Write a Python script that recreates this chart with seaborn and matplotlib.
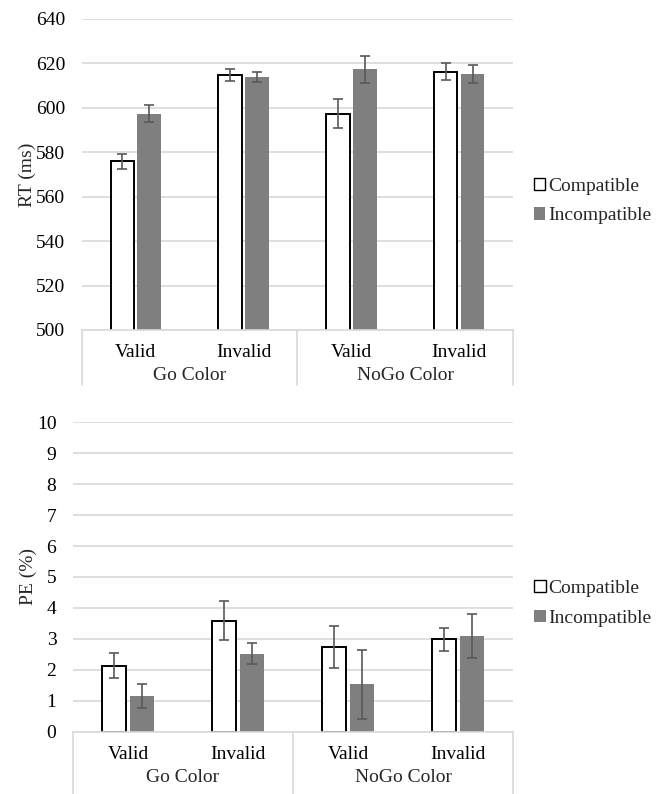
import matplotlib
matplotlib.use("Agg")
import matplotlib.pyplot as plt
from matplotlib.lines import Line2D
from matplotlib.patches import Patch
import matplotlib.transforms as mtrans
import numpy as np
import pandas as pd
import seaborn as sns

# categories
cues = ["Valid", "Invalid", "Valid", "Invalid"]
groups = ["Go Color", "NoGo Color"]
conds = ["Compatible", "Incompatible"]

# RT (ms) means and error bars
rt_comp = [576.0, 614.8, 597.4, 616.3]
rt_incomp = [597.4, 614.0, 617.3, 615.1]
rt_comp_err = [3.4, 2.5, 6.5, 3.9]
rt_incomp_err = [4.0, 2.2, 5.9, 4.0]

# PE (%) means and error bars
pe_comp = [2.14, 3.59, 2.73, 2.99]
pe_incomp = [1.17, 2.52, 1.54, 3.10]
pe_comp_err = [0.40, 0.63, 0.68, 0.37]
pe_incomp_err = [0.39, 0.34, 1.12, 0.70]

sns.set_theme(style="white")
plt.rcParams["font.family"] = ["Liberation Serif", "DejaVu Serif"]
fs = 14

grid_col = "#d9d9d9"
gray = "#7f7f7f"
err_col = "#595959"


def make_df(comp, incomp):
    rows = []
    for i in range(4):
        rows.append({"pos": i, "cond": conds[0], "val": comp[i]})
        rows.append({"pos": i, "cond": conds[1], "val": incomp[i]})
    return pd.DataFrame(rows)


def draw(ax, comp, incomp, comp_err, incomp_err, ylim, yticks, ylabel, low):
    df = make_df(comp, incomp)
    sns.barplot(data=df, x="pos", y="val", hue="cond", hue_order=conds,
                palette=["white", gray], width=0.5, gap=0.12,
                errorbar=None, legend=False, ax=ax, zorder=2)
    # white bars get a black outline, gray ones none
    for p in ax.containers[0]:
        p.set_edgecolor("black")
        p.set_linewidth(1.4)
    for p in ax.containers[1]:
        p.set_edgecolor("none")
    # error bars at the bar centres
    for cont, err in zip(ax.containers, [comp_err, incomp_err]):
        xs = [p.get_x() + p.get_width() / 2 for p in cont]
        hs = [p.get_height() for p in cont]
        ax.errorbar(xs, hs, yerr=err, fmt="none", ecolor=err_col,
                    elinewidth=1.2, capsize=3.5, capthick=1.2, zorder=3)
    ax.set_ylim(*ylim)
    ax.set_yticks(yticks)
    ax.set_xlim(-0.5, 3.5)
    ax.set_xticks(range(4))
    ax.set_xticklabels(cues)
    ax.set_xlabel("")
    ax.set_ylabel(ylabel, fontsize=fs, labelpad=0)
    ax.yaxis.grid(True, color=grid_col, lw=1.2, zorder=0)
    ax.set_axisbelow(True)
    for s in ["top", "right", "left"]:
        ax.spines[s].set_visible(False)
    ax.spines["bottom"].set_color(grid_col)
    ax.spines["bottom"].set_linewidth(1.2)
    ax.tick_params(axis="both", length=0, labelsize=fs, colors="black")
    ax.tick_params(axis="x", pad=10)
    ax.tick_params(axis="y", pad=12)
    # two-level category box under the axis
    tr = mtrans.blended_transform_factory(ax.transData, ax.transAxes)
    for xv in [-0.5, 1.5, 3.5]:
        ax.add_line(Line2D([xv, xv], [0, low], transform=tr, color=grid_col,
                           lw=1.2, clip_on=False))
    for gi, g in enumerate(groups):
        ax.text(gi * 2 + 0.5, -0.147, g, transform=tr, ha="center",
                va="center", fontsize=fs)
    handles = [Patch(facecolor="white", edgecolor="black", lw=1.0),
               Patch(facecolor=gray, edgecolor="none")]
    ax.legend(handles, conds, frameon=False, loc="center left",
              bbox_to_anchor=(1.03, 0.415), handlelength=0.6, handleheight=0.6,
              handletextpad=0.15, labelspacing=0.65, fontsize=fs,
              borderaxespad=0)


fig = plt.figure(figsize=(6.64, 7.94), dpi=100)
ax1 = fig.add_axes([0.1235, 0.5844, 0.649, 0.3917])
ax2 = fig.add_axes([0.110, 0.0781, 0.6627, 0.3904])

draw(ax1, rt_comp, rt_incomp, rt_comp_err, rt_incomp_err,
     (500, 640), range(500, 641, 20), "RT (ms)", -0.177)
draw(ax2, pe_comp, pe_incomp, pe_comp_err, pe_incomp_err,
     (0, 10), range(0, 11), "PE (%)", -0.2)

fig.savefig("out.png", dpi=100)
